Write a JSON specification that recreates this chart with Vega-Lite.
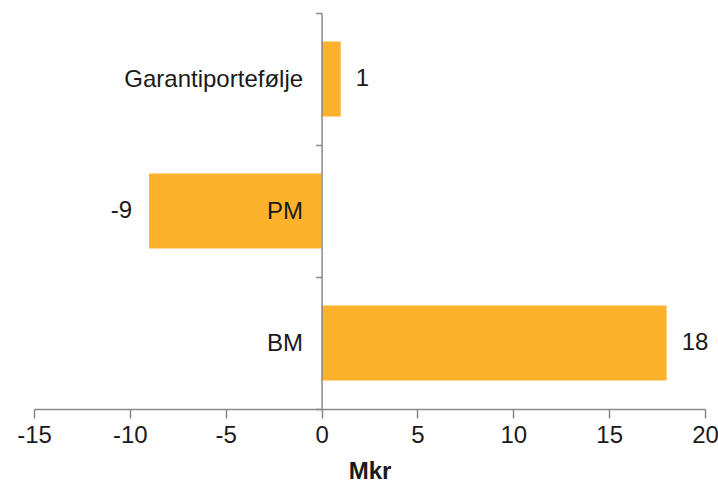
{
  "$schema": "https://vega.github.io/schema/vega-lite/v6.json",
  "autosize": {"type": "none"},
  "width": 671,
  "height": 396,
  "padding": {"left": 34, "top": 13, "right": 13, "bottom": 76},
  "config": {"view": {"stroke": null}, "font": "Liberation Sans"},
  "data": {
    "values": [
      {"kategori": "Garantiportefølje", "verdi": 1},
      {"kategori": "PM", "verdi": -9},
      {"kategori": "BM", "verdi": 18}
    ]
  },
  "transform": [{"calculate": "toString(datum.verdi)", "as": "etikett"}],
  "encoding": {
    "y": {
      "field": "kategori",
      "type": "nominal",
      "sort": ["Garantiportefølje", "PM", "BM"],
      "scale": {"paddingInner": 0, "paddingOuter": 0},
      "axis": {
        "title": null,
        "offset": -287.57,
        "zindex": 1,
        "tickBand": "extent",
        "domainColor": "#8a8a8a",
        "domainWidth": 1.5,
        "tickColor": "#8a8a8a",
        "tickWidth": 1.5,
        "tickSize": 6,
        "labelPadding": 13,
        "labelFontSize": 24,
        "labelColor": "#1a1a1a",
        "labelFont": "Liberation Sans"
      }
    },
    "x": {
      "field": "verdi",
      "type": "quantitative",
      "scale": {"domain": [-15, 20], "nice": false, "zero": false},
      "axis": {
        "title": "Mkr",
        "values": [-15, -10, -5, 0, 5, 10, 15, 20],
        "labelExpr": "replace(datum.label, '\u2212', '-')",
        "grid": false,
        "domainColor": "#8a8a8a",
        "domainWidth": 1.5,
        "tickColor": "#8a8a8a",
        "tickWidth": 1.5,
        "tickSize": 9,
        "labelPadding": 5,
        "labelFontSize": 24,
        "labelColor": "#1a1a1a",
        "labelFont": "Liberation Sans",
        "labelFlush": false,
        "labelOverlap": false,
        "titleFont": "Liberation Sans",
        "titleFontSize": 24,
        "titleFontWeight": "bold",
        "titleColor": "#1a1a1a",
        "titlePadding": 12
      }
    }
  },
  "layer": [
    {"mark": {"type": "bar", "color": "#FCB32B", "height": {"band": 0.57}}},
    {
      "transform": [{"filter": "datum.verdi >= 0"}],
      "mark": {"type": "text", "align": "left", "baseline": "middle", "dx": 15, "fontSize": 24, "color": "#1a1a1a", "font": "Liberation Sans"},
      "encoding": {"text": {"field": "etikett", "type": "nominal"}}
    },
    {
      "transform": [{"filter": "datum.verdi < 0"}],
      "mark": {"type": "text", "align": "right", "baseline": "middle", "dx": -17, "fontSize": 24, "color": "#1a1a1a", "font": "Liberation Sans"},
      "encoding": {"text": {"field": "etikett", "type": "nominal"}}
    }
  ]
}
